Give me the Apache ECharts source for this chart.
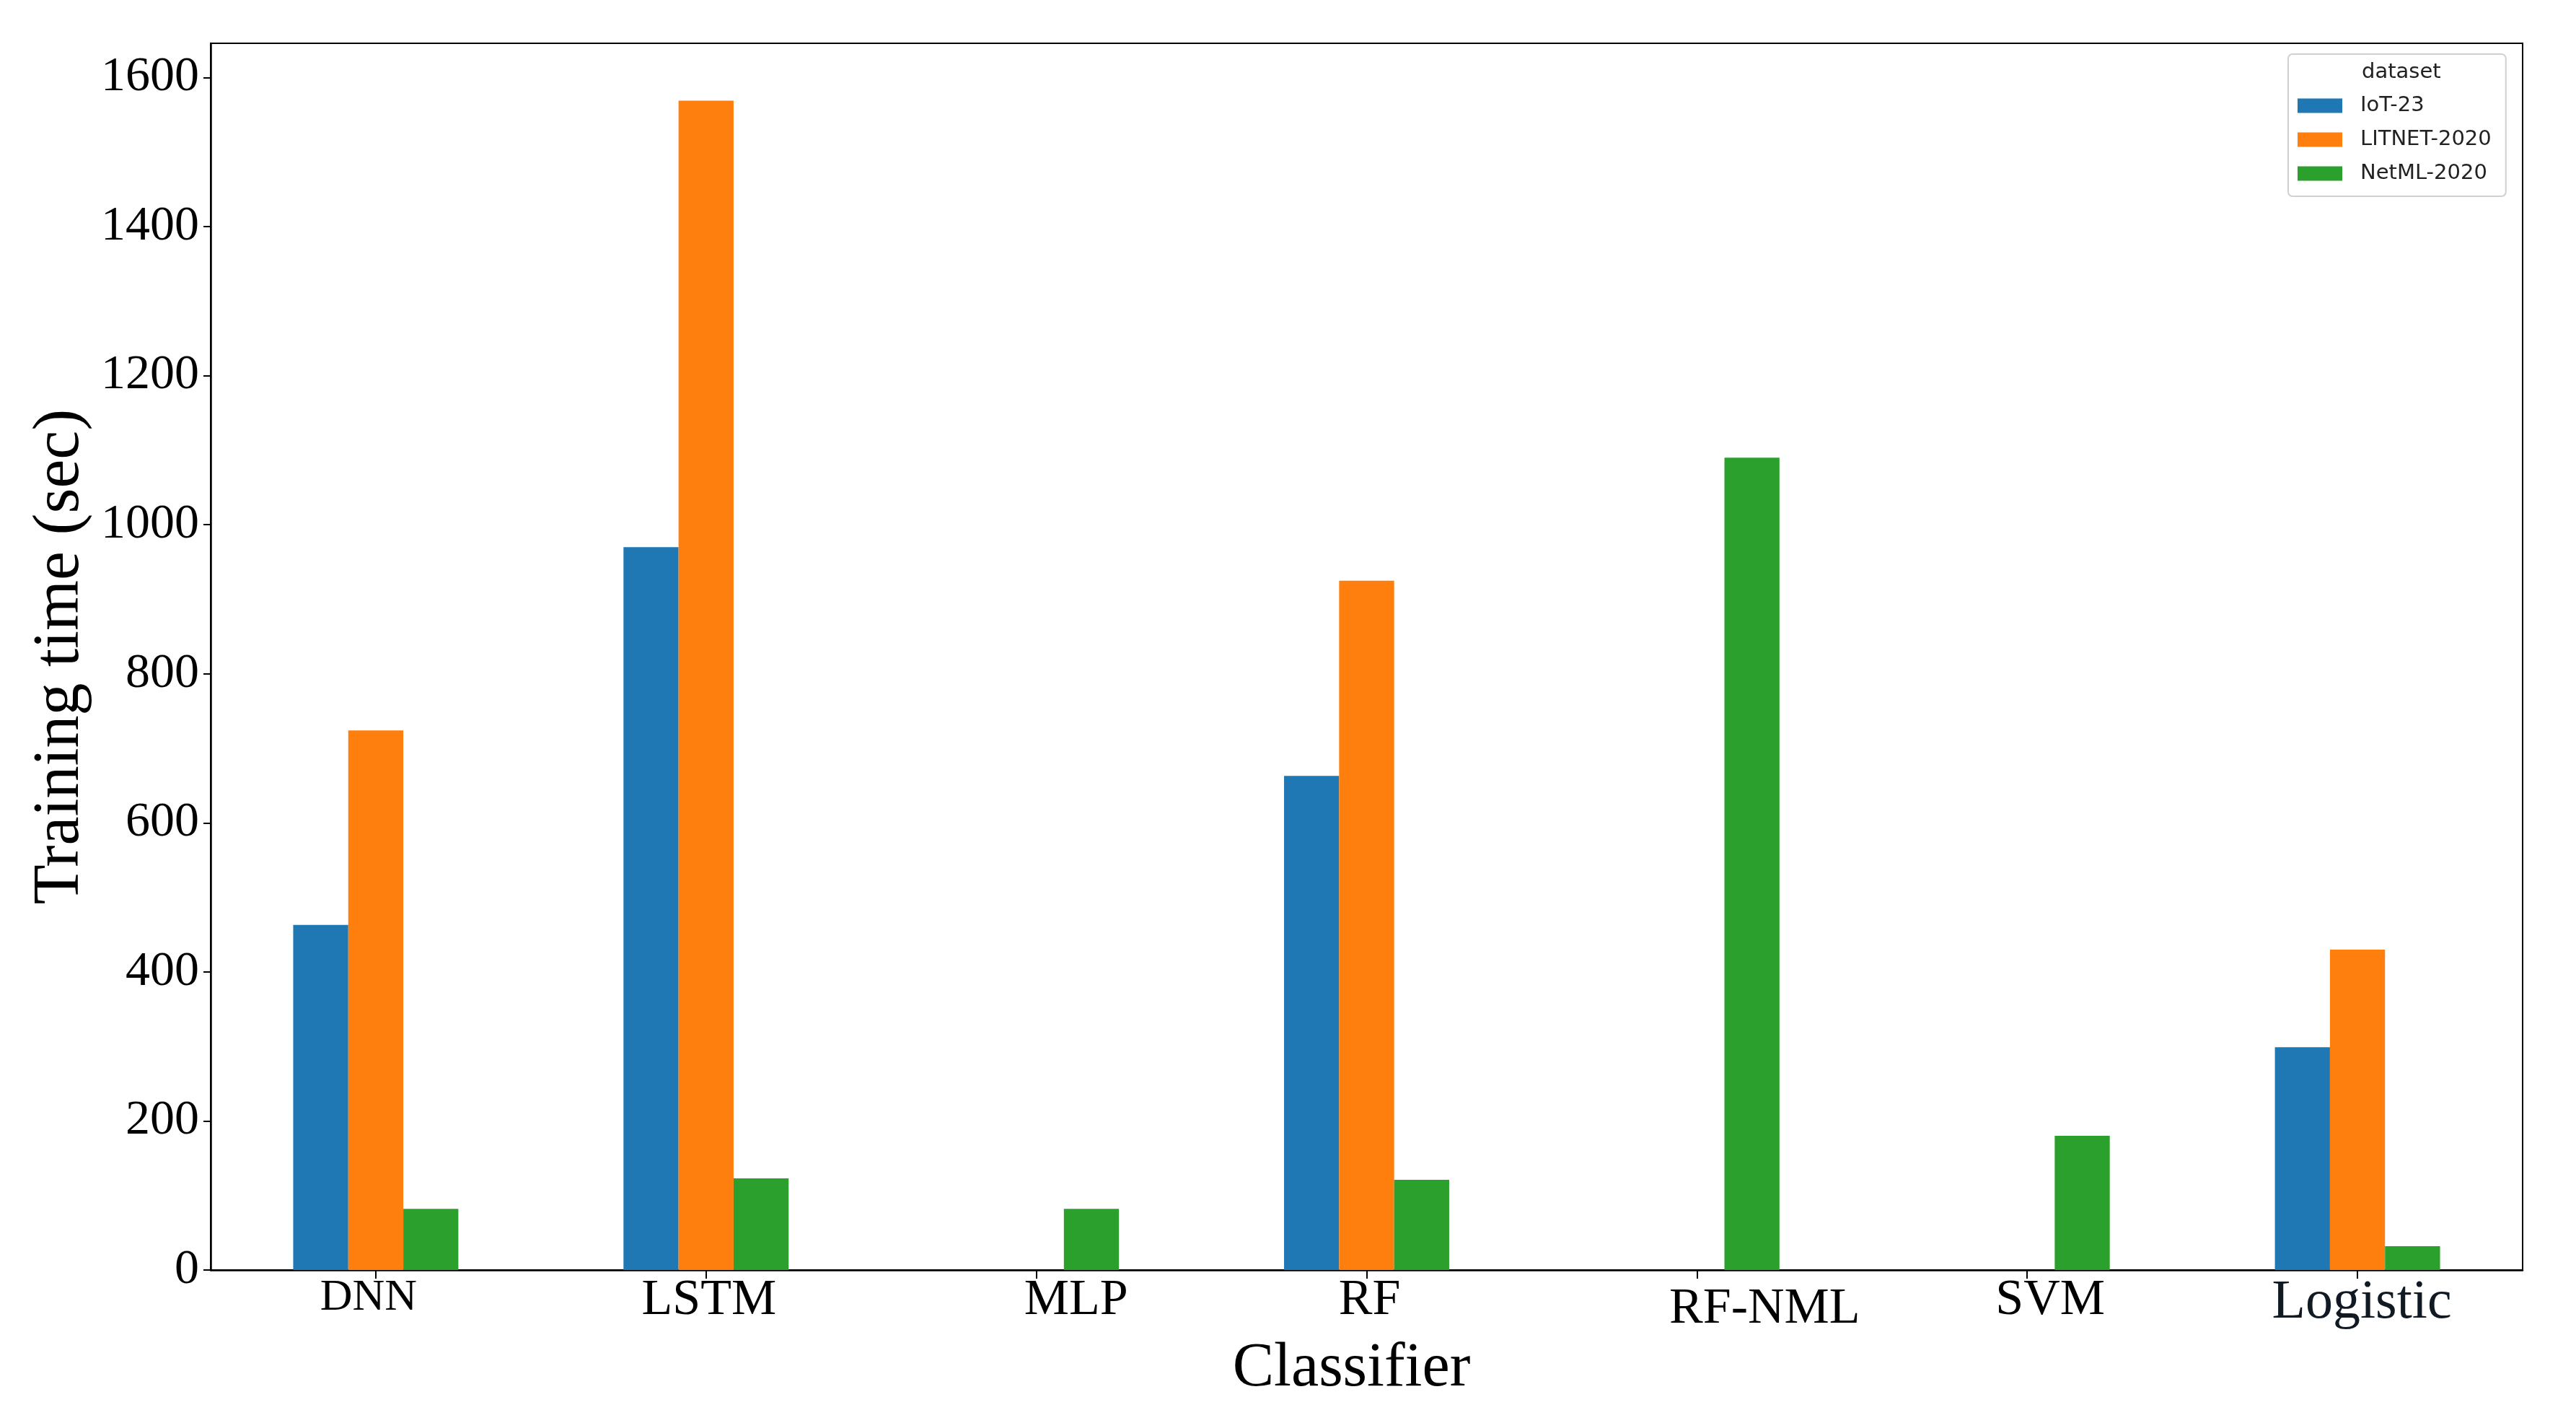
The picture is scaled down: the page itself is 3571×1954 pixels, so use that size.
<!DOCTYPE html>
<html>
<head>
<meta charset="utf-8">
<script src="https://cdn.jsdelivr.net/npm/echarts@6/dist/echarts.min.js"></script>
<style>
  html, body { margin: 0; padding: 0; background: #ffffff; }
  #chart { width: 3571px; height: 1954px; }
</style>
</head>
<body>
<div id="chart"></div>
<script>
// ---- data ----
const categories = ['DNN', 'LSTM', 'MLP', 'RF', 'RF-NML', 'SVM', 'Logistic'];
const seriesNames = ['IoT-23', 'LITNET-2020', 'NetML-2020'];
const iot23 = [463, 970, null, 663, null, null, 299];
const litnet2020 = [724, 1569, null, 925, null, null, 430];
const netml2020 = [82, 123, 82, 121, 1090, 180, 32];
const yTicks = [0, 200, 400, 600, 800, 1000, 1200, 1400, 1600];
const yMax = 1646;
const legendTitle = 'dataset';
const xTitle = 'Classifier';
const yTitle = 'Training time (sec)';

// ---- styling (label placement tweaks seen in the reference) ----
const labelShiftX = [-10, 4, 55, 4, 94, 32, 6];     // horizontal offset of each category label (px)
const labelShiftY = [0, 0, 0, 0, 6, 0, 0];          // vertical offset of each category label (px)
const labelSize = [62, 70, 70, 70, 70, 70, 76];

const colors = ['#1f77b4', '#ff7f0e', '#2ca02c'];
const serif = '"Liberation Serif", "DejaVu Serif", serif';
const sans = '"DejaVu Sans", sans-serif';

const chart = echarts.init(document.getElementById('chart'), null, { renderer: 'canvas' });

const values = [iot23, litnet2020, netml2020];

const xData = categories.map(function (c, i) {
  const dx = labelShiftX[i];
  const dy = labelShiftY[i];
  return {
    value: c,
    textStyle: {
      fontSize: labelSize[i],
      color: i === 6 ? '#111a22' : '#000000',
      padding: [dy > 0 ? dy * 2 : 0, dx < 0 ? -dx * 2 : 0, 0, dx > 0 ? dx * 2 : 0]
    }
  };
});

const option = {
  backgroundColor: '#ffffff',
  animation: false,
  color: colors,
  title: {
    text: legendTitle,
    left: 3274,
    top: 86,
    padding: 0,
    textStyle: { fontFamily: sans, fontSize: 29, fontWeight: 'normal', color: '#222222', lineHeight: 29 }
  },
  legend: {
    orient: 'vertical',
    left: 3172,
    top: 75,
    padding: [57, 20, 17, 13],
    itemWidth: 62,
    itemHeight: 20,
    itemGap: 18,
    icon: 'rect',
    backgroundColor: 'rgba(255,255,255,0.85)',
    borderColor: '#d0d0d0',
    borderWidth: 2,
    borderRadius: 6,
    textStyle: { fontFamily: sans, fontSize: 29, color: '#222222', lineHeight: 29, padding: [0, 0, 0, 20] },
    data: seriesNames
  },
  grid: {
    left: 292,
    right: 74,
    top: 60,
    bottom: 194,
    show: true,
    borderColor: '#000000',
    borderWidth: 2,
    backgroundColor: 'transparent',
    containLabel: false
  },
  xAxis: {
    type: 'category',
    data: xData,
    name: xTitle,
    nameLocation: 'middle',
    nameGap: 82,
    nameTextStyle: { fontFamily: serif, fontSize: 86, color: '#000000', padding: [0, 42, 0, 0] },
    axisLine: { show: true, lineStyle: { color: '#000000', width: 2.5 } },
    axisTick: { show: true, alignWithLabel: true, length: 12, lineStyle: { color: '#000000', width: 2 } },
    axisLabel: { fontFamily: serif, fontSize: 70, color: '#000000', margin: 8 },
    splitLine: { show: false }
  },
  yAxis: {
    type: 'value',
    min: 0,
    max: yMax,
    interval: 200,
    name: yTitle,
    nameLocation: 'middle',
    nameGap: 145,
    nameRotate: 90,
    nameTextStyle: { fontFamily: serif, fontSize: 90, color: '#000000' },
    axisLine: { show: true, lineStyle: { color: '#000000', width: 2.5 } },
    axisTick: { show: true, length: 10, lineStyle: { color: '#000000', width: 2 }, customValues: yTicks },
    axisLabel: {
      fontFamily: serif, fontSize: 68, color: '#000000', margin: 16,
      customValues: yTicks,
      formatter: function (v) { return (v % 200 === 0) ? String(v) : ''; }
    },
    splitLine: { show: false }
  },
  series: seriesNames.map(function (name, i) {
    return {
      name: name,
      type: 'bar',
      data: values[i],
      barGap: '0%',
      barCategoryGap: '50%',
      itemStyle: { color: colors[i] }
    };
  })
};

chart.setOption(option);
</script>
</body>
</html>
